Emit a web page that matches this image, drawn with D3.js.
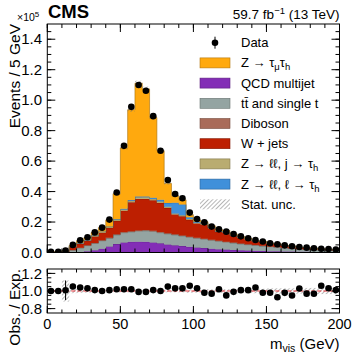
<!DOCTYPE html>
<html>
<head>
<meta charset="utf-8">
<script src="https://cdn.jsdelivr.net/npm/d3@7"></script>
<style>
body { margin: 0; background: #fff; }
svg { font-family: "Liberation Sans", Arial, sans-serif; }
</style>
</head>
<body>
<div class="container"></div>
<script>
// m_vis bins, 5 GeV wide, 0-200 GeV
var binEdges = d3.range(0, 205, 5);

// observed events (x 10^5)
var dataVals = [0.004, 0.005, 0.012, 0.050, 0.080, 0.100, 0.132, 0.163, 0.216, 0.394,
                0.700, 0.956, 1.100, 1.062, 0.895, 0.668, 0.476, 0.384, 0.356, 0.262,
                0.220, 0.198, 0.170, 0.152, 0.137, 0.121, 0.106, 0.094, 0.082, 0.072,
                0.061, 0.054, 0.047, 0.041, 0.036, 0.032, 0.028, 0.025, 0.023, 0.020];
// relative data error (for the ratio)
var dataErr = [0.01, 0.01, 0.11, 0.03, 0.02, 0.01, 0.01, 0.01, 0.01, 0.01,
               0.01, 0.01, 0.01, 0.01, 0.01, 0.01, 0.01, 0.01, 0.01, 0.01,
               0.01, 0.01, 0.01, 0.01, 0.01, 0.01, 0.01, 0.01, 0.01, 0.01,
               0.01, 0.01, 0.01, 0.01, 0.01, 0.01, 0.01, 0.01, 0.01, 0.01];
// relative stat. unc. of the expectation
var statUnc = [0.005, 0.005, 0.12, 0.025, 0.02, 0.02, 0.015, 0.015, 0.015, 0.015,
               0.015, 0.015, 0.015, 0.015, 0.015, 0.015, 0.015, 0.015, 0.015, 0.02,
               0.02, 0.02, 0.02, 0.02, 0.02, 0.02, 0.025, 0.025, 0.025, 0.025,
               0.03, 0.03, 0.03, 0.03, 0.03, 0.035, 0.035, 0.035, 0.035, 0.035];

// expected backgrounds + signal (x 10^5), stacked bottom to top
var qcd = [0, 0, 0.0005, 0.002, 0.004, 0.008, 0.015, 0.025, 0.040, 0.055,
           0.066, 0.070, 0.071, 0.070, 0.066, 0.060, 0.052, 0.047, 0.042, 0.037,
           0.033, 0.029, 0.025, 0.022, 0.019, 0.017, 0.015, 0.013, 0.011, 0.010,
           0.009, 0.008, 0.007, 0.006, 0.005, 0.005, 0.004, 0.004, 0.003, 0.003];
var ttbar = [0, 0, 0.001, 0.013, 0.026, 0.037, 0.045, 0.052, 0.053, 0.060,
             0.064, 0.065, 0.069, 0.072, 0.072, 0.070, 0.070, 0.068, 0.066, 0.063,
             0.060, 0.058, 0.055, 0.052, 0.049, 0.045, 0.041, 0.038, 0.036, 0.032,
             0.029, 0.026, 0.022, 0.020, 0.017, 0.015, 0.014, 0.012, 0.011, 0.010];
var diboson = [0, 0, 0.0003, 0.001, 0.0015, 0.002, 0.0025, 0.003, 0.0035, 0.004,
               0.0045, 0.005, 0.005, 0.005, 0.005, 0.005, 0.0048, 0.0046, 0.0044, 0.0042,
               0.004, 0.0038, 0.0036, 0.0034, 0.0032, 0.003, 0.0028, 0.0026, 0.0024, 0.0022,
               0.002, 0.0019, 0.0018, 0.0017, 0.0016, 0.0015, 0.0014, 0.0013, 0.0012, 0.0011];
var wjets = [0.002, 0.003, 0.007, 0.020, 0.026, 0.030, 0.042, 0.050, 0.065, 0.088,
             0.140, 0.190, 0.207, 0.205, 0.200, 0.190, 0.165, 0.130, 0.125, 0.110,
             0.094, 0.092, 0.076, 0.058, 0.059, 0.046, 0.038, 0.032, 0.024, 0.024,
             0.018, 0.018, 0.014, 0.0125, 0.009, 0.0095, 0.0078, 0.0048, 0.0055, 0.0045];
var zllJet = [0.0005, 0.0005, 0.001, 0.003, 0.004, 0.004, 0.005, 0.005, 0.006, 0.007,
              0.008, 0.009, 0.010, 0.010, 0.009, 0.009, 0.008, 0.007, 0.007, 0.006,
              0.005, 0.005, 0.004, 0.004, 0.0035, 0.003, 0.0028, 0.0025, 0.0022, 0.002,
              0.0018, 0.0017, 0.0015, 0.0013, 0.0012, 0.0011, 0.001, 0.0008, 0.0008, 0.0007];
var zllLep = [0.0005, 0.0005, 0.0006, 0.002, 0.002, 0.002, 0.003, 0.003, 0.003, 0.004,
              0.004, 0.005, 0.005, 0.006, 0.008, 0.012, 0.025, 0.070, 0.070, 0.012,
              0.006, 0.004, 0.003, 0.002, 0.002, 0.0015, 0.0014, 0.0012, 0.001, 0.001,
              0.0008, 0.0008, 0.0007, 0.0006, 0.0005, 0.0005, 0.0004, 0.0004, 0.0004, 0.0003];
var ztautau = [0.001, 0.001, 0.0015, 0.0066, 0.0134, 0.0141, 0.0182, 0.025, 0.0434, 0.1683,
               0.3998, 0.5933, 0.7441, 0.7047, 0.5261, 0.322, 0.1285, 0.0462, 0.0312, 0.015,
               0.0116, 0.0102, 0.0087, 0.0076, 0.0085, 0.0067, 0.004, 0.0038, 0.0022, 0.0023,
               0.0016, 0.0017, 0.001, 0.0011, 0.0007, 0.0004, 0.0003, 0.0003, 0.0004, 0.0002];

var stackOrder = [qcd, ttbar, diboson, wjets, zllJet, zllLep, ztautau];
var stackColors = ["#832db6", "#94a4a2", "#a96b59", "#bd1f01", "#b9ac70", "#3f90da", "#ffa90e"];

var yTicks = [0, 0.2, 0.4, 0.6, 0.8, 1.0, 1.2, 1.4];
var xTicks = [0, 50, 100, 150, 200];
var rTicks = [0.8, 1.0, 1.2];

var svg = d3.select('.container').append('svg')
    .attr('width', 357).attr('height', 356);

var padL = 47.3, padR = 339.5;
var mainTop = 24, mainBottom = 252.5;
var rTop = 269, rBottom = 313;

var x = d3.scaleLinear().domain([0, 200]).range([padL, padR]);
var y = d3.scaleLinear().domain([0, 1.5]).range([mainBottom, mainTop]);
var yr = d3.scaleLinear().domain([0.75, 1.25]).range([rBottom, rTop]);

var defs = svg.append('defs');
defs.append('clipPath').attr('id', 'clipMain')
    .append('rect').attr('x', padL).attr('y', mainTop).attr('width', padR - padL).attr('height', mainBottom - mainTop);
defs.append('clipPath').attr('id', 'clipRatio')
    .append('rect').attr('x', padL).attr('y', rTop).attr('width', padR - padL).attr('height', rBottom - rTop);
var pat = defs.append('pattern').attr('id', 'hatch')
    .attr('width', 3).attr('height', 3)
    .attr('patternUnits', 'userSpaceOnUse')
    .attr('patternTransform', 'rotate(45)');
pat.append('line').attr('x1', 0).attr('y1', 0).attr('x2', 0).attr('y2', 3)
    .attr('stroke', '#6e6e6e').attr('stroke-width', 1);

// ---- stacked histogram ----
var main = svg.append('g').attr('clip-path', 'url(#clipMain)');
var total = dataVals.map(function(){ return 0; });

var area = d3.area()
    .x(function(d){ return x(d.x); })
    .y0(function(d){ return y(d.y0); })
    .y1(function(d){ return y(d.y1); });
var topLine = d3.line()
    .x(function(d){ return x(d.x); })
    .y(function(d){ return y(d.y1); });

stackOrder.forEach(function(vals, k){
    var pts = [];
    for (var i = 0; i < vals.length; i++) {
        var y0 = total[i], y1 = total[i] + vals[i];
        pts.push({x: binEdges[i], y0: y0, y1: y1});
        pts.push({x: binEdges[i + 1], y0: y0, y1: y1});
        total[i] = y1;
    }
    main.append('path').attr('d', area(pts)).attr('fill', stackColors[k]);
    main.append('path').attr('d', topLine(pts)).attr('fill', 'none')
        .attr('stroke', d3.color(stackColors[k]).darker(1.2)).attr('stroke-width', 0.6);
});

// stat unc band in main panel
main.selectAll('rect.unc')
    .data(total)
    .enter().append('rect')
    .attr('x', function(d, i){ return x(binEdges[i]); })
    .attr('width', function(d, i){ return x(binEdges[i + 1]) - x(binEdges[i]); })
    .attr('y', function(d, i){ return y(d * (1 + statUnc[i])); })
    .attr('height', function(d, i){ return Math.max(0.8, y(d * (1 - statUnc[i])) - y(d * (1 + statUnc[i]))); })
    .attr('fill', 'url(#hatch)');

// data
var centers = dataVals.map(function(d, i){ return (binEdges[i] + binEdges[i + 1]) / 2; });
main.selectAll('line.err')
    .data(dataVals)
    .enter().append('line')
    .attr('x1', function(d, i){ return x(centers[i]); })
    .attr('x2', function(d, i){ return x(centers[i]); })
    .attr('y1', function(d, i){ return y(d * (1 - dataErr[i] * 0.3)); })
    .attr('y2', function(d, i){ return y(d * (1 + dataErr[i] * 0.3)); })
    .attr('stroke', '#000').attr('stroke-width', 1);
main.selectAll('circle')
    .data(dataVals)
    .enter().append('circle')
    .attr('cx', function(d, i){ return x(centers[i]); })
    .attr('cy', function(d){ return y(d); })
    .attr('r', 3.3)
    .attr('fill', '#000');

// ---- ratio panel ----
var ratioG = svg.append('g').attr('clip-path', 'url(#clipRatio)');
ratioG.selectAll('rect')
    .data(statUnc)
    .enter().append('rect')
    .attr('x', function(d, i){ return x(binEdges[i]); })
    .attr('width', function(d, i){ return x(binEdges[i + 1]) - x(binEdges[i]); })
    .attr('y', function(d){ return yr(1 + d); })
    .attr('height', function(d){ return yr(1 - d) - yr(1 + d); })
    .attr('fill', 'url(#hatch)');
ratioG.append('line')
    .attr('x1', x(0)).attr('x2', x(200)).attr('y1', yr(1)).attr('y2', yr(1))
    .attr('stroke', '#e8343a').attr('stroke-width', 1).attr('stroke-dasharray', '4,2');
var ratio = dataVals.map(function(d, i){ return d / total[i]; });
ratioG.selectAll('line.err')
    .data(ratio)
    .enter().append('line')
    .attr('x1', function(d, i){ return x(centers[i]); })
    .attr('x2', function(d, i){ return x(centers[i]); })
    .attr('y1', function(d, i){ return yr(d - d * dataErr[i]); })
    .attr('y2', function(d, i){ return yr(d + d * dataErr[i]); })
    .attr('stroke', '#000').attr('stroke-width', 1);
ratioG.selectAll('circle')
    .data(ratio)
    .enter().append('circle')
    .attr('cx', function(d, i){ return x(centers[i]); })
    .attr('cy', function(d){ return yr(d); })
    .attr('r', 3.3)
    .attr('fill', '#000');

// ---- frames & ticks ----
function frame(y0, y1) {
    svg.append('rect').attr('x', padL).attr('y', y0)
        .attr('width', padR - padL).attr('height', y1 - y0)
        .attr('fill', 'none').attr('stroke', '#000').attr('stroke-width', 1);
}
frame(mainTop, mainBottom);
frame(rTop, rBottom);

var tickG = svg.append('g').attr('stroke', '#000').attr('stroke-width', 1);
function ticks(values, isX, scale, pos, len, dir) {
    values.forEach(function(v){
        var p = scale(v);
        if (isX) tickG.append('line').attr('x1', p).attr('x2', p).attr('y1', pos).attr('y2', pos + dir * len);
        else tickG.append('line').attr('y1', p).attr('y2', p).attr('x1', pos).attr('x2', pos + dir * len);
    });
}
var minorX = d3.range(0, 201, 10);
var minorY = d3.range(0, 1.5, 0.05);
var minorR = [0.8, 0.85, 0.9, 0.95, 1.0, 1.05, 1.1, 1.15, 1.2];

// main panel
ticks(xTicks, true, x, mainBottom, 8, -1);
ticks(xTicks, true, x, mainTop, 8, 1);
ticks(minorX, true, x, mainBottom, 4, -1);
ticks(minorX, true, x, mainTop, 4, 1);
ticks(yTicks, false, y, padL, 8, 1);
ticks(yTicks, false, y, padR, 8, -1);
ticks(minorY, false, y, padL, 4, 1);
ticks(minorY, false, y, padR, 4, -1);
// ratio panel
ticks(xTicks, true, x, rBottom, 7, -1);
ticks(xTicks, true, x, rTop, 7, 1);
ticks(minorX, true, x, rBottom, 3.5, -1);
ticks(minorX, true, x, rTop, 3.5, 1);
ticks(rTicks, false, yr, padL, 8, 1);
ticks(rTicks, false, yr, padR, 8, -1);
ticks(minorR, false, yr, padL, 4, 1);
ticks(minorR, false, yr, padR, 4, -1);

// tick labels
svg.selectAll('text.ylab').data(yTicks).enter().append('text')
    .attr('x', 42).attr('y', function(d){ return y(d) + 5.2; })
    .attr('text-anchor', 'end').attr('font-size', 15)
    .text(function(d){ return d3.format('.1f')(d); });
svg.selectAll('text.rlab').data(rTicks).enter().append('text')
    .attr('x', 42).attr('y', function(d){ return yr(d) + 5.2; })
    .attr('text-anchor', 'end').attr('font-size', 15)
    .text(function(d){ return d3.format('.1f')(d); });
svg.selectAll('text.xlab').data(xTicks).enter().append('text')
    .attr('x', function(d){ return x(d); }).attr('y', 329)
    .attr('text-anchor', 'middle').attr('font-size', 14.5)
    .text(function(d){ return d; });

// axis titles
svg.append('text').attr('transform', 'translate(19.5,' + mainTop + ') rotate(-90)')
    .attr('text-anchor', 'end').attr('font-size', 15.5).text('Events / 5 GeV');
svg.append('text').attr('transform', 'translate(19.5,' + rTop + ') rotate(-90)')
    .attr('text-anchor', 'end').attr('font-size', 15.5).text('Obs. / Exp.');
var xt = svg.append('text').attr('x', padR).attr('y', 349)
    .attr('text-anchor', 'end').attr('font-size', 15);
xt.append('tspan').text('m');
xt.append('tspan').attr('font-size', 10.5).attr('dy', 3).text('vis');
xt.append('tspan').attr('dy', -3).text(' (GeV)');

var ex = svg.append('text').attr('x', 17).attr('y', 21).attr('font-size', 10.5);
ex.append('tspan').text('\u00d710');
ex.append('tspan').attr('font-size', 8).attr('dy', -4).text('5');

svg.append('text').attr('x', 48).attr('y', 18).attr('font-size', 18.5)
    .attr('font-weight', 'bold').text('CMS');
var lumi = svg.append('text').attr('x', padR).attr('y', 19)
    .attr('text-anchor', 'end').attr('font-size', 13.5);
lumi.append('tspan').text('59.7 fb');
lumi.append('tspan').attr('font-size', 9.5).attr('dy', -5).text('\u22121');
lumi.append('tspan').attr('dy', 5).text(' (13 TeV)');

// ---- legend ----
var legendNames = [
    [['Z ', 0], ['\u2192 \u03c4', 0], ['\u03bc', 1], ['\u03c4', 0], ['h', 1]],
    [['QCD multijet', 0]],
    [['tt', 2], [' and single t', 0]],
    [['Diboson', 0]],
    [['W + jets', 0]],
    [['Z \u2192 \u2113\u2113, j \u2192 \u03c4', 0], ['h', 1]],
    [['Z \u2192 \u2113\u2113, \u2113 \u2192 \u03c4', 0], ['h', 1]]
];
var legendColors = ["#ffa90e", "#832db6", "#94a4a2", "#a96b59", "#bd1f01", "#b9ac70", "#3f90da"];
var legY0 = 42.7, legStep = 20.2;

// data entry
svg.append('line').attr('x1', 215).attr('x2', 215).attr('y1', legY0 - 6).attr('y2', legY0 + 6)
    .attr('stroke', '#000').attr('stroke-width', 1);
svg.append('circle').attr('cx', 215).attr('cy', legY0).attr('r', 3.3).attr('fill', '#000');
svg.append('text').attr('x', 241).attr('y', legY0 + 4.5).attr('font-size', 13).text('Data');

legendNames.forEach(function(parts, k){
    var cy = legY0 + legStep * (k + 1);
    svg.append('rect').attr('x', 200).attr('y', cy - 5).attr('width', 30).attr('height', 10)
        .attr('fill', legendColors[k]).attr('stroke', d3.color(legendColors[k]).darker(1)).attr('stroke-width', 0.6);
    var t = svg.append('text').attr('x', 241).attr('y', cy + 4.5).attr('font-size', 13);
    var sub = false;
    parts.forEach(function(p){
        if (p[1] === 2) {
            t.append('tspan').text('t');
            t.append('tspan').text('t\u0304');
            return;
        }
        var ts = t.append('tspan');
        if (p[1] === 1) { ts.attr('font-size', 9.5).attr('dy', sub ? 0 : 3); sub = true; }
        else if (sub) { ts.attr('dy', -3); sub = false; }
        ts.text(p[0]);
    });
});
var sy = legY0 + legStep * 8;
svg.append('rect').attr('x', 200).attr('y', sy - 5).attr('width', 30).attr('height', 10)
    .attr('fill', 'url(#hatch)');
svg.append('text').attr('x', 241).attr('y', sy + 4.5).attr('font-size', 13).text('Stat.  unc.');
</script>
</body>
</html>
